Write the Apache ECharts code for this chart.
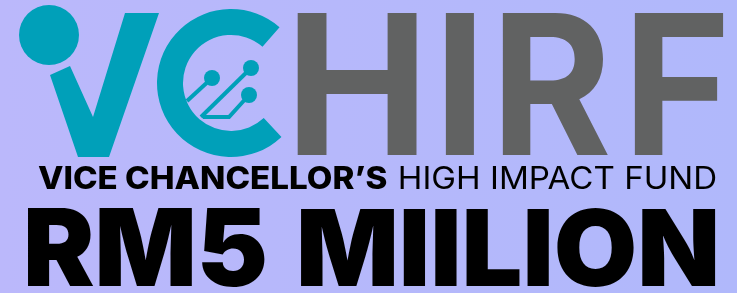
<!DOCTYPE html>
<html>
<head>
<meta charset="utf-8">
<script src="https://cdn.jsdelivr.net/npm/echarts@6/dist/echarts.min.js"></script>
<style>
  html, body { margin: 0; padding: 0; }
  #box { width: 737px; height: 293px; }
</style>
</head>
<body>
<div id="box"></div>
<script>
// 文字内容
const brandLetters = ['H', 'I', 'R', 'F'];
const taglineParts = ['VICE CHANCELLOR\u2019S', 'HIGH IMPACT FUND'];
const amountParts = ['RM5', 'MIILION'];

const TEAL = '#00a0b9';
const GREY = '#616262';
const FONT = 'Inter, "Open Sans", sans-serif';

// 量字宽，把文字拉伸到指定的框里
const ctx = document.createElement('canvas').getContext('2d');
function fitText(str, weight, left, right, top, bottom, color) {
  let fs = 100;
  ctx.textBaseline = 'middle';
  ctx.font = weight + ' ' + fs + 'px ' + FONT;
  let m = ctx.measureText(str);
  fs = fs * (bottom - top) / (m.actualBoundingBoxAscent + m.actualBoundingBoxDescent);
  ctx.font = weight + ' ' + fs + 'px ' + FONT;
  m = ctx.measureText(str);
  const sx = (right - left) / (m.actualBoundingBoxLeft + m.actualBoundingBoxRight);
  return {
    type: 'text',
    x: left + m.actualBoundingBoxLeft * sx,
    y: top + m.actualBoundingBoxAscent,
    scaleX: sx,
    style: {
      text: str,
      fontSize: fs,
      fontWeight: weight,
      fontFamily: FONT,
      fill: color,
      align: 'left',
      verticalAlign: 'middle'
    }
  };
}

function drawLogo() {
  let myCharts = echarts.init(document.getElementById('box'));

  // 每个字母的左右边界
  const letterBox = [[297, 417], [445, 474], [502, 608], [634, 723]];
  const elements = [];

  // 背景
  elements.push({
    type: 'rect', z: -10,
    shape: { x: 0, y: 0, width: 737, height: 293 },
    style: {
      fill: new echarts.graphic.LinearGradient(0, 0, 1, 0, [
        { offset: 0, color: '#bbb8fb' },
        { offset: 1, color: '#b0b8fb' }
      ])
    }
  });

  // "i" 的圆点
  elements.push({ type: 'circle', shape: { cx: 49, cy: 35, r: 30 }, style: { fill: TEAL } });
  // V
  elements.push({
    type: 'polygon',
    shape: { points: [[50, 75], [70, 66], [93, 117], [125, 13], [159, 13], [109, 157], [78, 157]] },
    style: { fill: TEAL }
  });
  // C
  elements.push({
    type: 'sector',
    shape: { cx: 231, cy: 83, r0: 48, r: 74, startAngle: Math.PI * 47 / 180, endAngle: Math.PI * 311 / 180, clockwise: true },
    style: { fill: TEAL }
  });
  // 电路线
  const circuit = [
    [[212, 78], [187, 101]],
    [[251, 68], [201, 117]],
    [[249, 95], [229, 117], [203, 117]]
  ];
  circuit.forEach(pts => {
    elements.push({ type: 'polyline', shape: { points: pts }, style: { stroke: TEAL, lineWidth: 4, fill: null } });
  });
  [[212, 78], [251, 68], [249, 95]].forEach(p => {
    elements.push({ type: 'circle', shape: { cx: p[0], cy: p[1], r: 8 }, style: { fill: TEAL } });
  });

  // HIRF
  brandLetters.forEach((ch, i) => {
    elements.push(fitText(ch, 700, letterBox[i][0], letterBox[i][1], 13, 155, GREY));
  });

  // 副标题
  elements.push(fitText(taglineParts[0], 800, 38, 387, 166, 189, '#000'));
  elements.push(fitText(taglineParts[1], 400, 400, 716, 166, 189, '#000'));

  // RM5 MIILION
  elements.push(fitText(amountParts[0], 900, 28, 265, 208, 287, '#000'));
  elements.push(fitText(amountParts[1], 900, 300, 716, 208, 287, '#000'));

  let option = {
    animation: false,
    graphic: { elements: elements }
  };
  myCharts.setOption(option);
}

drawLogo();
</script>
</body>
</html>
